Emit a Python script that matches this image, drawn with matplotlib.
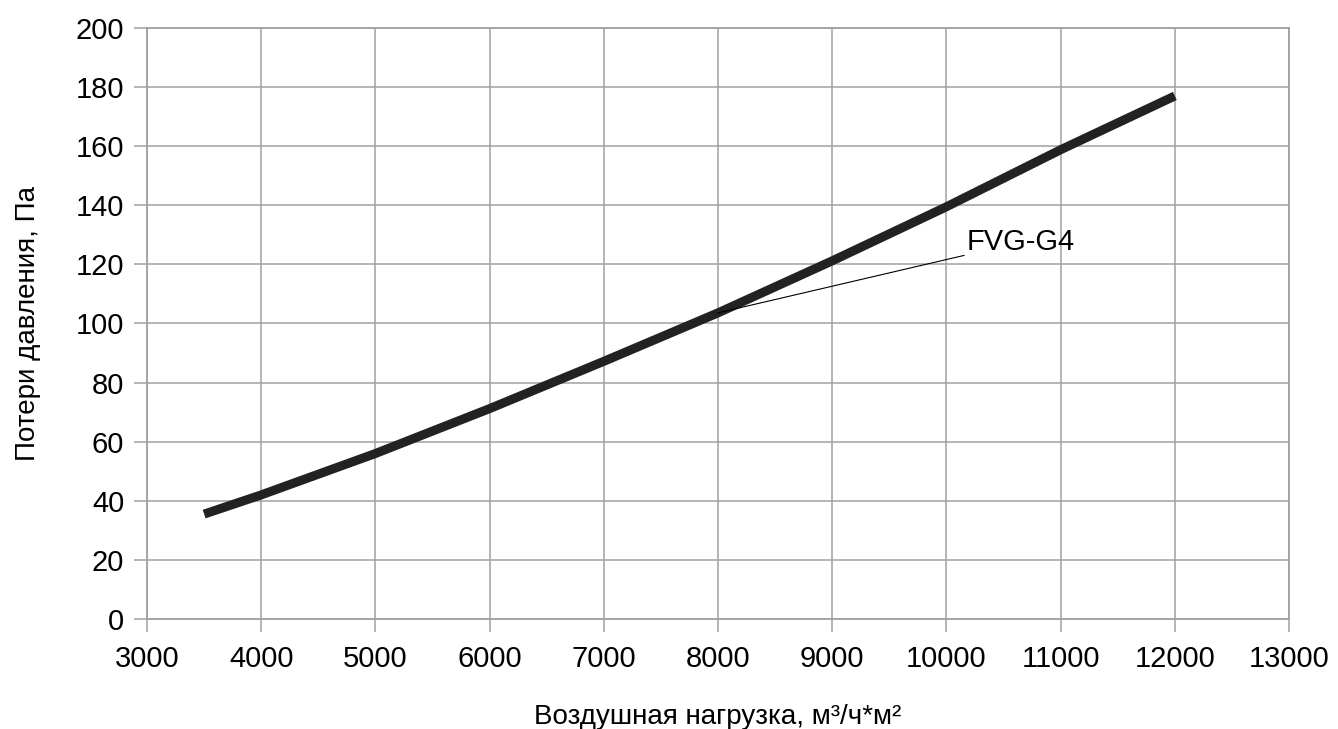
import matplotlib.pyplot as plt

plt.rcParams['font.family'] = ['Liberation Sans', 'DejaVu Sans']

# air load, m3/h*m2 and pressure loss, Pa
flow = [3500, 4000, 5000, 6000, 7000, 8000, 9000, 10000, 11000, 12000]
loss = [35.5, 42.0, 56.0, 71.2, 87.2, 103.6, 121.2, 139.5, 158.8, 177.0]

x_ticks = list(range(3000, 13001, 1000))
y_ticks = list(range(0, 201, 20))

series_name = "FVG-G4"
label_xy = (10180, 122.8)
label_anchor = (8000, 103.6)

fig = plt.figure(figsize=(13.38, 7.29), dpi=100)
ax = fig.add_axes([0.1099, 0.1509, 0.8535, 0.8107])

ax.plot(flow, loss, color='#222222', linewidth=6.5, solid_capstyle='butt', zorder=3)

ax.set_xlim(3000, 13000)
ax.set_ylim(0, 200)
ax.set_xticks(x_ticks)
ax.set_yticks(y_ticks)
ax.grid(True, color='#a0a0a0', linewidth=1.1)
ax.set_axisbelow(True)
for s in ax.spines.values():
    s.set_color('#a0a0a0')
    s.set_linewidth(1.3)
ax.tick_params(axis='both', colors='#a0a0a0', labelcolor='black', length=9.5,
               width=1.1, labelsize=21)
ax.tick_params(axis='x', pad=9.5)
ax.tick_params(axis='y', pad=7)

ax.set_xlabel("Воздушная нагрузка, м³/ч*м²", fontsize=20, labelpad=22)
ax.set_ylabel("Потери давления, Па", fontsize=20, labelpad=25)

ax.annotate(series_name, xy=label_anchor, xytext=label_xy, fontsize=21,
            ha='left', va='bottom',
            arrowprops=dict(arrowstyle='-', color='black', linewidth=0.8,
                            shrinkA=0, shrinkB=0))

fig.savefig('out.png', dpi=100)
